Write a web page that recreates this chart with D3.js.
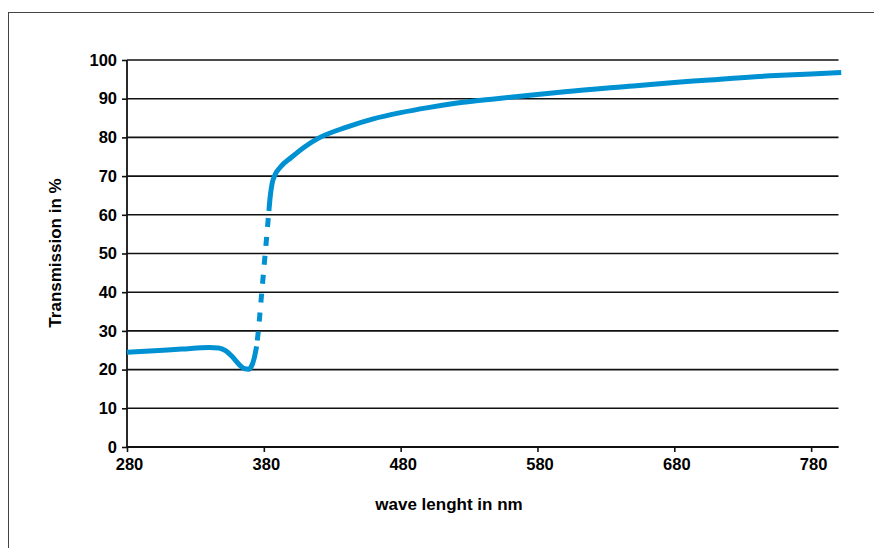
<!DOCTYPE html>
<html>
<head>
<meta charset="utf-8">
<script src="https://cdn.jsdelivr.net/npm/d3@7"></script>
<style>
  body { margin: 0; background: #fff; }
  text { font-family: "Liberation Sans", Arial, sans-serif; font-weight: bold; }
</style>
</head>
<body>
<div id="chart"></div>
<script>
// x ticks and y ticks
const xTicks = [280, 380, 480, 580, 680, 780];
const yTicks = [0, 10, 20, 30, 40, 50, 60, 70, 80, 90, 100];

// transmission curve, split into solid / dashed / solid parts
const lowerPart = [
  [280, 24.5], [300, 24.9], [320, 25.3], [340, 25.7], [347, 25.6], [352, 24.9],
  [357, 23.3], [362, 21.3], [366, 20.2], [369, 20.1], [371, 20.9], [373, 23.0], [374.7, 26]
];
const dashedPart = [
  [374.7, 26], [376, 30], [378, 38], [380, 46], [382, 54], [383.7, 61]
];
const upperPart = [
  [383.7, 61], [384.6, 64.5], [386, 68], [388, 70.2], [392, 72.3], [400, 74.8],
  [410, 77.6], [420, 79.8], [440, 82.6], [460, 84.8], [480, 86.4], [500, 87.7],
  [520, 88.8], [550, 90], [580, 91.1], [600, 91.8], [650, 93.3], [680, 94.2],
  [700, 94.7], [750, 95.9], [780, 96.4], [802, 96.8]
];

(function() {
  const W = 874, H = 548;
  const margin = { top: 60, left: 127, right: 36, bottom: 101 };
  const width = W - margin.left - margin.right;
  const height = H - margin.top - margin.bottom;

  const svg = d3.select("#chart").append("svg")
    .attr("width", W)
    .attr("height", H);

  // outer frame
  svg.append("rect")
    .attr("x", 8.5).attr("y", 12.5)
    .attr("width", 900).attr("height", 600)
    .attr("fill", "none")
    .attr("stroke", "#444")
    .attr("stroke-width", 1);

  const g = svg.append("g")
    .attr("transform", "translate(" + margin.left + "," + margin.top + ")");

  const x = d3.scaleLinear().domain([280, 800]).range([0, width + 0.5]);
  const y = d3.scaleLinear().domain([0, 100]).range([height, 0]);

  // horizontal grid lines
  g.selectAll(".grid")
    .data(yTicks)
    .enter().append("line")
    .attr("class", "grid")
    .attr("x1", 0)
    .attr("x2", x(800))
    .attr("y1", d => y(d))
    .attr("y2", d => y(d))
    .attr("stroke", "#111")
    .attr("stroke-width", 1.6);

  const yAxis = d3.axisLeft(y).tickValues(yTicks).tickSize(5).tickPadding(5);
  const xAxis = d3.axisBottom(x).tickValues(xTicks).tickSize(5).tickPadding(6);

  const ya = g.append("g").call(yAxis);
  const xa = g.append("g").attr("transform", "translate(0," + height + ")").call(xAxis);

  [ya, xa].forEach(a => {
    a.select(".domain").attr("stroke", "#111").attr("stroke-width", 1.8);
    a.selectAll(".tick line").attr("stroke", "#111").attr("stroke-width", 1.6);
    a.selectAll(".tick text")
      .attr("fill", "#000")
      .style("font-size", "16.5px")
      .style("font-family", "Liberation Sans, Arial, sans-serif")
      .style("font-weight", "bold");
  });
  ya.select(".domain").attr("d", "M0," + height + "V0");
  xa.select(".domain").attr("d", "M0,0H" + x(800));
  xa.selectAll(".tick text").attr("dx", 2);

  const line = d3.line()
    .x(d => x(d[0]))
    .y(d => y(d[1]))
    .curve(d3.curveMonotoneX);

  const blue = "#0091d2";
  g.append("path").datum(lowerPart).attr("d", line)
    .attr("fill", "none").attr("stroke", blue).attr("stroke-width", 5);
  g.append("path").datum(dashedPart).attr("d", line)
    .attr("fill", "none").attr("stroke", blue).attr("stroke-width", 5)
    .attr("stroke-dasharray", "9,10").attr("stroke-dashoffset", -6);
  g.append("path").datum(upperPart).attr("d", line)
    .attr("fill", "none").attr("stroke", blue).attr("stroke-width", 5)
    .attr("stroke-linecap", "butt");

  // axis titles
  svg.append("text")
    .attr("x", 449)
    .attr("y", 510)
    .attr("text-anchor", "middle")
    .style("font-size", "17px")
    .text("wave lenght in nm");

  svg.append("text")
    .attr("transform", "translate(61,253) rotate(-90)")
    .attr("text-anchor", "middle")
    .style("font-size", "17px")
    .text("Transmission in %");
})();
</script>
</body>
</html>
